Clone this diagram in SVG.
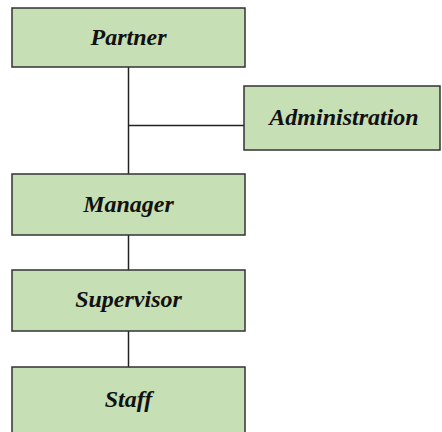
<svg xmlns="http://www.w3.org/2000/svg" width="442" height="432" viewBox="0 0 442 432">
  <style>
    .box { fill: #c6dfb4; stroke: #333; stroke-width: 1.5; }
    .label { font-family: "Liberation Serif", "Times New Roman", serif; font-weight: bold; font-style: italic; font-size: 24px; fill: #111; text-anchor: middle; }
    .link { stroke: #222; stroke-width: 1.5; fill: none; }
  </style>
  <rect width="442" height="432" fill="#fff"/>
  <g id="connectors">
    <line class="link" x1="128.5" y1="67" x2="128.5" y2="174"/>
    <line class="link" x1="128.5" y1="125.5" x2="244" y2="125.5"/>
    <line class="link" x1="128.5" y1="235" x2="128.5" y2="270"/>
    <line class="link" x1="128.5" y1="331" x2="128.5" y2="367"/>
  </g>
  <g id="partner">
    <rect class="box" x="12" y="8" width="233" height="59"/>
    <text class="label" x="128.5" y="45">Partner</text>
  </g>
  <g id="administration">
    <rect class="box" x="244" y="86" width="196" height="64"/>
    <text class="label" x="344" y="125">Administration</text>
  </g>
  <g id="manager">
    <rect class="box" x="12" y="174" width="233" height="61"/>
    <text class="label" x="128.5" y="212">Manager</text>
  </g>
  <g id="supervisor">
    <rect class="box" x="12" y="270" width="233" height="61"/>
    <text class="label" x="128.5" y="307">Supervisor</text>
  </g>
  <g id="staff">
    <rect class="box" x="12" y="367" width="233" height="70"/>
    <text class="label" x="128.5" y="407">Staff</text>
  </g>
</svg>
